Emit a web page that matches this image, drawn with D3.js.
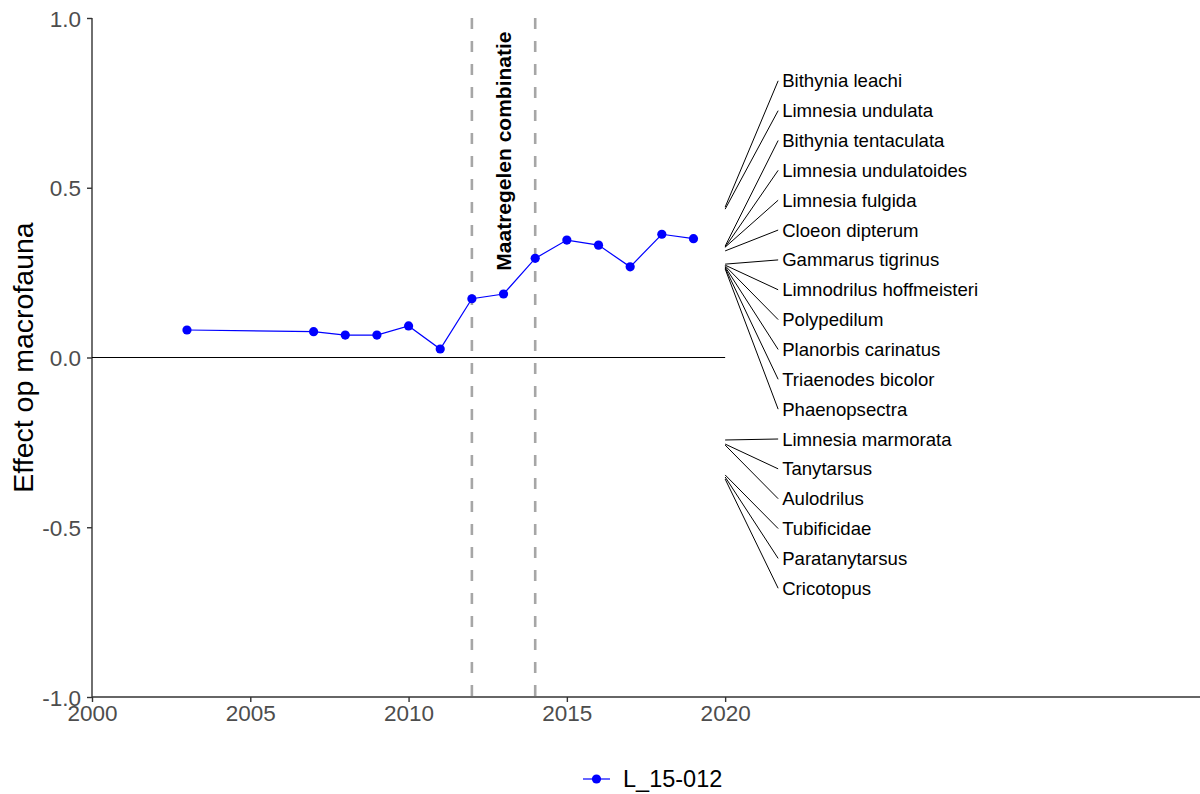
<!DOCTYPE html>
<html>
<head>
<meta charset="utf-8">
<script src="https://cdn.jsdelivr.net/npm/d3@7"></script>
<style>
  html, body { margin: 0; padding: 0; background: #fff; }
  svg { display: block; font-family: "Liberation Sans", Arial, Helvetica, sans-serif; }
</style>
</head>
<body>
<svg id="chart" width="1200" height="794"></svg>
<script>
// Macrofauna effect per year for location L_15-012
const years = [2003, 2007, 2008, 2009, 2010, 2011, 2012, 2013, 2014, 2015, 2016, 2017, 2018, 2019];
const effects = [0.081, 0.076, 0.066, 0.066, 0.093, 0.025, 0.173, 0.187, 0.292, 0.346, 0.331, 0.267, 0.363, 0.350];
const seriesName = "L_15-012";

// Measure period (start / end year)
const measureYears = [2012, 2014];
const measureLabel = "Maatregelen combinatie";

// Species contributions, shown at 2020
const species = [
  "Bithynia leachi", "Limnesia undulata", "Bithynia tentaculata", "Limnesia undulatoides",
  "Limnesia fulgida", "Cloeon dipterum", "Gammarus tigrinus", "Limnodrilus hoffmeisteri",
  "Polypedilum", "Planorbis carinatus", "Triaenodes bicolor", "Phaenopsectra",
  "Limnesia marmorata", "Tanytarsus", "Aulodrilus", "Tubificidae", "Paratanytarsus", "Cricotopus"
];
const speciesEffects = [
  0.443, 0.437, 0.328, 0.325, 0.325, 0.314, 0.275, 0.272, 0.270, 0.267, 0.264, 0.261,
  -0.243, -0.255, -0.258, -0.346, -0.352, -0.358
];
const speciesYear = 2020;

// Axis ticks
const xTicks = [2000, 2005, 2010, 2015, 2020];
const yTicks = [-1.0, -0.5, 0.0, 0.5, 1.0];
const yTitle = "Effect op macrofauna";

const svg = d3.select("#chart");
const x = d3.scaleLinear().domain([2000, 2035]).range([92, 1200]);
const y = d3.scaleLinear().domain([-1, 1]).range([697, 18]);

const axisColor = "#333333";
const tickTextColor = "#4d4d4d";
// plain hyphen-minus for negative tick labels
const fmtY = d => d3.format(".1f")(d).replace("\u2212", "-");

// Y axis
const yAxis = svg.append("g").attr("transform", `translate(${x(2000)},0)`)
  .call(d3.axisLeft(y).tickValues(yTicks).tickFormat(fmtY).tickSize(5).tickPadding(6));
yAxis.select(".domain").attr("stroke", axisColor).attr("stroke-width", 1.4).attr("d", `M0,${y(1)}V${y(-1)}`);
yAxis.selectAll(".tick line").attr("stroke", axisColor).attr("stroke-width", 1.4);
yAxis.selectAll(".tick text").attr("fill", tickTextColor).attr("font-size", 22.5)
  .attr("font-family", "'Liberation Sans', Arial, sans-serif").attr("dy", "0.36em");

// X axis
const xAxis = svg.append("g").attr("transform", `translate(0,${y(-1)})`)
  .call(d3.axisBottom(x).tickValues(xTicks).tickFormat(d3.format("d")).tickSize(5).tickPadding(3));
xAxis.select(".domain").attr("stroke", axisColor).attr("stroke-width", 1.4).attr("d", `M${x(2000)},0H1200`);
xAxis.selectAll(".tick line").attr("stroke", axisColor).attr("stroke-width", 1.4);
xAxis.selectAll(".tick text").attr("fill", tickTextColor).attr("font-size", 22.5)
  .attr("font-family", "'Liberation Sans', Arial, sans-serif");

// Y title
svg.append("text")
  .attr("transform", `translate(33,${(y(1) + y(-1)) / 2}) rotate(-90)`)
  .attr("text-anchor", "middle")
  .attr("font-size", 28.5)
  .attr("fill", "#000")
  .text(yTitle);

// Zero reference line
svg.append("line")
  .attr("x1", x(2000)).attr("x2", x(2020))
  .attr("y1", y(0)).attr("y2", y(0))
  .attr("stroke", "#000").attr("stroke-width", 1.1);

// Measure period boundaries
svg.selectAll(".measure").data(measureYears).enter().append("line")
  .attr("class", "measure")
  .attr("x1", d => x(d)).attr("x2", d => x(d))
  .attr("y1", y(1)).attr("y2", y(-1))
  .attr("stroke", "#a6a6a6").attr("stroke-width", 2.6)
  .attr("stroke-dasharray", "11,12");

// Measure label
const midMeasure = (measureYears[0] + measureYears[1]) / 2;
svg.append("text")
  .attr("transform", `translate(${x(midMeasure) + 7},${y(0.608)}) rotate(-90)`)
  .attr("text-anchor", "middle")
  .attr("font-size", 21)
  .attr("font-weight", "bold")
  .attr("fill", "#000")
  .text(measureLabel);

// Series line and points
const series = years.map((yr, i) => ({ yr, v: effects[i] }));
svg.append("path")
  .datum(series)
  .attr("fill", "none")
  .attr("stroke", "#0000ff")
  .attr("stroke-width", 1.2)
  .attr("d", d3.line().x(d => x(d.yr)).y(d => y(d.v)));
svg.selectAll(".pt").data(series).enter().append("circle")
  .attr("class", "pt")
  .attr("cx", d => x(d.yr)).attr("cy", d => y(d.v))
  .attr("r", 4.6).attr("fill", "#0000ff");

// Species labels stacked in a column right of the series, connected to their value
const labelTextX = x(speciesYear) + 57;
const labelTop = y(0.815);
const labelStep = 29.85;
const labels = svg.append("g");
species.forEach((name, i) => {
  const ly = labelTop + i * labelStep;
  labels.append("line")
    .attr("x1", x(speciesYear)).attr("y1", y(speciesEffects[i]))
    .attr("x2", labelTextX - 4).attr("y2", ly)
    .attr("stroke", "#000").attr("stroke-width", 1);
  labels.append("text")
    .attr("x", labelTextX).attr("y", ly)
    .attr("dy", "0.35em")
    .attr("font-size", 18.6)
    .attr("fill", "#000")
    .text(name);
});

// Legend
const lg = svg.append("g").attr("transform", "translate(583,779)");
lg.append("line").attr("x1", 0).attr("x2", 27).attr("y1", 0).attr("y2", 0)
  .attr("stroke", "#0000ff").attr("stroke-width", 1.2);
lg.append("circle").attr("cx", 13.5).attr("cy", 0).attr("r", 4.6).attr("fill", "#0000ff");
lg.append("text").attr("x", 40).attr("y", 0).attr("dy", "0.36em")
  .attr("font-size", 23.5).attr("fill", "#000").text(seriesName);
</script>
</body>
</html>
